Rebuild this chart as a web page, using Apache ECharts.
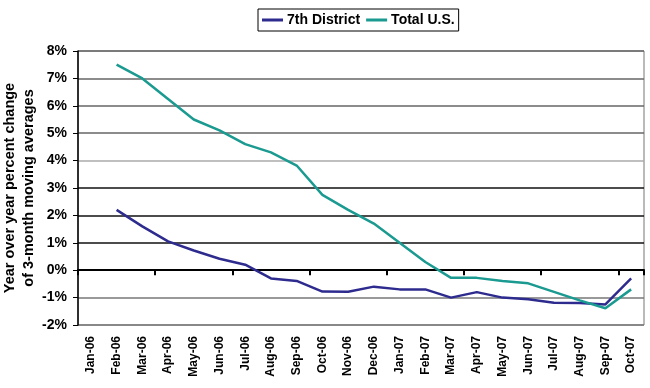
<!DOCTYPE html>
<html>
<head>
<meta charset="utf-8">
<script src="https://cdn.jsdelivr.net/npm/echarts@6/dist/echarts.min.js"></script>
<style>
html,body{margin:0;padding:0;background:#fff;}
#chart{width:650px;height:388px;}
</style>
</head>
<body>
<div id="chart"></div>
<script>
var categories = ["Jan-06","Feb-06","Mar-06","Apr-06","May-06","Jun-06","Jul-06","Aug-06","Sep-06","Oct-06","Nov-06","Dec-06","Jan-07","Feb-07","Mar-07","Apr-07","May-07","Jun-07","Jul-07","Aug-07","Sep-07","Oct-07"];
var district7 = [null,2.2,1.6,1.05,0.72,0.42,0.2,-0.3,-0.39,-0.78,-0.79,-0.6,-0.7,-0.7,-1.0,-0.8,-1.0,-1.06,-1.19,-1.2,-1.25,-0.3];
var totalUS = [null,7.5,7.0,6.25,5.5,5.1,4.6,4.3,3.82,2.75,2.2,1.7,1.0,0.3,-0.28,-0.28,-0.39,-0.48,-0.79,-1.1,-1.39,-0.7];
var yTicks = {min:-2, max:8, interval:1};

var FONT = "'Liberation Sans', Arial, sans-serif";
var chart = echarts.init(document.getElementById('chart'));
chart.setOption({
  animation:false,
  backgroundColor:'#fff',
  textStyle:{fontFamily:FONT},
  legend:{
    left:258, top:9,
    padding:[4,4,4,4],
    borderColor:'#000', borderWidth:1,
    itemWidth:21, itemHeight:3, itemGap:6,
    icon:'rect',
    textStyle:{fontFamily:FONT,fontSize:14,fontWeight:'bold',color:'#000',padding:[0,0,0,-1]},
    data:['7th District','Total U.S.']
  },
  grid:{left:78,right:6,top:51,bottom:63,show:true,borderColor:'#777',borderWidth:1,containLabel:false,outerBoundsMode:'none'},
  xAxis:[{
    type:'category', data:categories, boundaryGap:true,
    axisLine:{onZero:true,lineStyle:{color:'#000',width:2}},
    axisTick:{show:true,length:5,lineStyle:{color:'#000',width:2}},
    axisLabel:{show:false},
    splitLine:{show:false}
  },{
    type:'category', data:categories, boundaryGap:true, position:'bottom',
    axisLine:{show:false,onZero:false},
    axisTick:{show:false},
    axisLabel:{rotate:90,margin:11,fontFamily:FONT,fontSize:12,fontWeight:'bold',color:'#000',interval:0},
    splitLine:{show:false}
  }],
  yAxis:{
    type:'value', min:yTicks.min, max:yTicks.max, interval:yTicks.interval,
    name:'Year over year percent change\nof 3-month moving averages',
    nameLocation:'middle', nameGap:40, nameMoveOverlap:false,
    nameTextStyle:{fontFamily:FONT,fontSize:14.5,fontWeight:'bold',color:'#000',lineHeight:19,align:'center'},
    axisLine:{show:true,lineStyle:{color:'#000',width:1.5}},
    axisTick:{show:true,length:5,lineStyle:{color:'#000'}},
    axisLabel:{formatter:'{value}%',margin:11,fontFamily:FONT,fontSize:14,fontWeight:'bold',color:'#000'},
    splitLine:{show:true,lineStyle:{width:1.5,color:['#777','#777','#000','#111','#111','#111','#aaa','#666','#666','#666','#666']}}
  },
  series:[{
    name:'7th District', type:'line', data:district7, xAxisIndex:0,
    showSymbol:false, symbol:'none', connectNulls:false,
    lineStyle:{color:'#2E2B8E',width:2.5}, itemStyle:{color:'#2E2B8E'}
  },{
    name:'Total U.S.', type:'line', data:totalUS, xAxisIndex:0,
    showSymbol:false, symbol:'none', connectNulls:false,
    lineStyle:{color:'#1A9A90',width:2.5}, itemStyle:{color:'#1A9A90'}
  }]
});
</script>
</body>
</html>
